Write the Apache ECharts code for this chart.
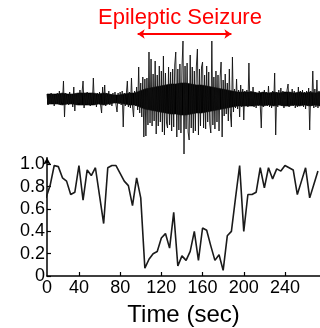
<!DOCTYPE html>
<html><head><meta charset="utf-8">
<script src="https://cdn.jsdelivr.net/npm/echarts@6/dist/echarts.min.js"></script>
<style>html,body{margin:0;padding:0;background:#fff}#c{width:320px;height:328px}</style>
</head><body><div id="c"></div>
<script>
const titleText = 'Epileptic Seizure';
const seizureSpan = [97, 188];
const xLabelTitle = 'Time (sec)';
// EEG trace, one sample per second starting at t = 9 s (arbitrary amplitude units)
const eegStart = 9;
const eegAmp = [
 5,-6,4,-5,6,-4,5,-7,4,-5,
 6,-5,8,-6,5,-4,18,-18,6,-5,
 4,-6,7,-5,5,-8,12,-12,5,-6,
 6,-4,9,-6,-5,18,-9,6,-5,7,
 -6,5,-7,6,-5,21,-6,5,-8,6,
 -5,7,-6,-14,12,-6,14,-7,6,-5,
 8,-6,5,-7,6,-4,7,-6,-13,6,
 -5,7,-6,8,-28,6,-7,5,18,-8,
 7,-9,21,-7,-18,8,-7,12,-11,32,
 -14,16,-18,22,-38,20,-37,21,-26,47,
 -24,40,-27,25,-22,38,-35,24,-27,33,
 -23,28,-33,43,-36,26,-24,-29,32,-26,
 27,-32,30,-28,34,47,-38,30,-31,35,
 -34,31,58,-55,33,-30,36,-33,-41,44,
 -29,32,-34,28,-32,33,50,-36,30,-27,
 32,37,-29,24,-30,33,-23,27,-25,-34,
 58,-26,22,-30,28,-23,24,-32,21,37,
 -38,19,-17,25,-15,16,-22,30,-14,-28,
 42,-13,10,-9,20,-10,9,-18,14,-8,
 10,-21,8,-7,9,-8,36,-7,8,-6,
 12,-8,7,-9,6,-7,8,-6,-29,7,
 -8,9,-6,7,-7,13,-8,6,-9,8,
 -6,26,-36,7,-8,9,-6,11,-7,8,
 -9,6,-7,9,15,-8,7,-6,10,-7,
 8,-9,6,-8,12,-7,8,-6,9,-8,
 7,-10,8,-7,11,-31,8,-7,28,-9,
 10,-8,19,-9,8,-7
];
// dense core of the EEG: half-width every 5 s starting at t = 9 s
const coreStep = 5;
const eegCore = [5,5,5,6,5,5,6,6,6,6,5,6,5,4,4,5,6,6,8,10,11,12,13,14,15,15,16,16,15,14,14,13,12,11,10,9,8,7,7,7,7,6,7,6,7,6,7,7,6,7,6,7,6,7];
// Lower panel: time (s) and normalized values
const timeSec = [8,12,16,20,24,28,32,36,40,44,48,52,56,60,64,68,72,76,80,84,88,92,96,100,
 104,108,112,116,120,124,128,132,136,140,144,148,152,156,160,164,168,172,176,180,184,188,
 192,196,200,204,208,212,216,220,224,228,232,236,240,244,248,252,256,260,264,268,272];
const score = [0.70,0.81,0.99,0.98,0.88,0.85,0.73,0.75,0.99,0.68,0.95,0.90,0.97,0.72,0.47,0.97,0.99,0.99,0.92,0.85,0.81,0.63,0.88,0.70,
 0.07,0.15,0.20,0.22,0.34,0.38,0.25,0.57,0.09,0.18,0.14,0.22,0.40,0.14,0.43,0.41,0.27,0.14,0.19,0.05,0.36,0.40,
 0.70,0.99,0.40,0.73,0.73,0.75,0.97,0.79,0.97,0.87,0.96,0.94,0.99,0.97,0.95,0.73,0.85,0.97,0.70,0.82,0.94];
const xTickLabels = [40,80,120,160,200,240];
const yTickLabels = [0,0.2,0.4,0.6,0.8,1.0];

const xMin = 9, xMax = 274;
const eegData = eegAmp.map((v,i)=>[eegStart+i, v]);
const coreUp = eegCore.map((h,i)=>[eegStart+i*coreStep, h]);
const coreDown = eegCore.map((h,i)=>[eegStart+i*coreStep, -h]);
const lineData = timeSec.map((t,i)=>[t, score[i]]);
const FONT = 'Liberation Sans, Arial, sans-serif';

const coreSeries = d => ({type:'line', xAxisIndex:0, yAxisIndex:0, data:d, showSymbol:false, symbol:'none',
  lineStyle:{width:0.6, color:'#000'}, areaStyle:{color:'#000', opacity:1, origin:0}, silent:true});

const chart = echarts.init(document.getElementById('c'), null, {renderer:'canvas'});
chart.setOption({
  animation:false,
  backgroundColor:'#fff',
  graphic:[{type:'text', x:180, y:18, style:{text:titleText, fill:'#ff0000', font:'22px '+FONT, align:'center', verticalAlign:'middle'}}],
  grid:[
    {left:47, right:0, top:29, height:130},
    {left:47, right:0, top:157.7, height:128.8}
  ],
  xAxis:[
    {gridIndex:0, type:'value', min:xMin, max:xMax, show:false},
    {gridIndex:1, type:'value', min:xMin, max:xMax,
     name:xLabelTitle, nameLocation:'middle', nameGap:27,
     nameTextStyle:{fontFamily:FONT, fontSize:24, color:'#000'},
     axisLine:{show:true, onZero:false, lineStyle:{color:'#000', width:1.5}},
     axisTick:{show:true, inside:true, length:4, lineStyle:{color:'#000', width:1.2}, customValues:xTickLabels},
     axisLabel:{show:true, margin:3, fontFamily:FONT, fontSize:18, color:'#000',
       customValues:[xMin].concat(xTickLabels), formatter:v=> (v===xMin?'0':String(v))},
     splitLine:{show:false}}
  ],
  yAxis:[
    {gridIndex:0, type:'value', min:-60, max:70, show:false},
    {gridIndex:1, type:'value', min:0, max:1.06,
     axisLine:{show:true, onZero:false, symbol:['none','arrow'], symbolSize:[6,7], lineStyle:{color:'#000', width:1.5}},
     axisTick:{show:true, inside:true, length:4, lineStyle:{color:'#000', width:1.2}, customValues:yTickLabels},
     axisLabel:{show:true, margin:2, fontFamily:FONT, fontSize:18, color:'#000',
       customValues:yTickLabels, formatter:v=> (v===0?'0':v.toFixed(1))},
     splitLine:{show:false}}
  ],
  series:[
    coreSeries(coreUp),
    coreSeries(coreDown),
    {type:'line', xAxisIndex:0, yAxisIndex:0, data:eegData, showSymbol:false, symbol:'none',
     lineStyle:{color:'#111', width:0.9}, silent:true,
     markLine:{silent:true, symbol:['arrow','arrow'], symbolSize:[7,7], label:{show:false},
       lineStyle:{color:'#ff0000', width:2, type:'solid'},
       data:[[{coord:[seizureSpan[0],65]},{coord:[seizureSpan[1],65]}]]}},
    {type:'line', xAxisIndex:1, yAxisIndex:1, data:lineData, showSymbol:false, symbol:'none',
     lineStyle:{color:'#1a1a1a', width:1.6}, silent:true}
  ]
});
</script></body></html>
